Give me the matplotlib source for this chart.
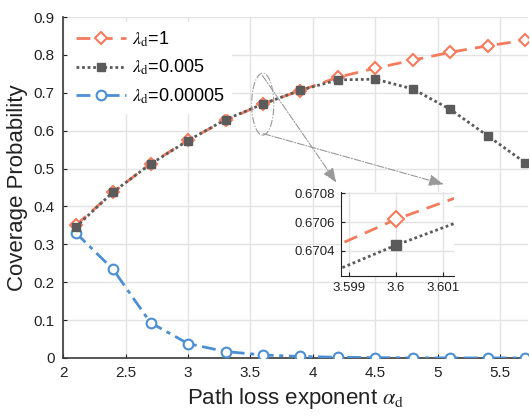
import matplotlib
matplotlib.use('Agg')
import matplotlib.pyplot as plt
from matplotlib.patches import Ellipse

plt.rcParams['font.family'] = ['Liberation Sans', 'DejaVu Sans']
plt.rcParams['mathtext.fontset'] = 'stix'

alpha = [2.1, 2.4, 2.7, 3.0, 3.3, 3.6, 3.9, 4.2, 4.5, 4.8, 5.1, 5.4, 5.7]
cov_l1 = [0.350, 0.437, 0.513, 0.575, 0.6271, 0.67062, 0.706, 0.741, 0.765, 0.786, 0.807, 0.824, 0.839]
cov_l005 = [0.345, 0.438, 0.512, 0.574, 0.6293, 0.67044, 0.707, 0.734, 0.736, 0.710, 0.656, 0.586, 0.515]
cov_l00005 = [0.331, 0.234, 0.093, 0.038, 0.017, 0.008, 0.004, 0.002, 0.001, 0.0005, 0.0003, 0.0002, 0.0001]
labels = [r'$\lambda_{\mathrm{d}}$=1', r'$\lambda_{\mathrm{d}}$=0.005', r'$\lambda_{\mathrm{d}}$=0.00005']

c_org = '#F47B5E'
c_gry = '#5B5B5B'
c_blu = '#4D8FD5'

fig = plt.figure(figsize=(5.3, 4.19), dpi=100)
ax = fig.add_axes([0.119, 0.1456, 0.877, 0.8138])

def draw(a, ms=1.0):
    a.plot(alpha, cov_l1, color=c_org, ls=(0, (5, 3)), lw=2, marker='D',
           ms=6 * ms, mfc='white', mec=c_org, mew=1.5, label=labels[0], zorder=3)
    a.plot(alpha, cov_l005, color=c_gry, ls=(0, (1, 1)), lw=2, marker='s',
           ms=5.5 * ms, mfc=c_gry, mec=c_gry, label=labels[1], zorder=4)
    a.plot(alpha, cov_l00005, color=c_blu, ls=(0, (5, 2, 1.5, 2)), lw=2, marker='o',
           ms=7 * ms, mfc='white', mec=c_blu, mew=1.5, label=labels[2], zorder=3)

draw(ax)
ax.set_xlim(2, 5.72)
ax.set_ylim(0, 0.9)
ax.set_xticks([2, 2.5, 3, 3.5, 4, 4.5, 5, 5.5])
ax.set_xticklabels(['2', '2.5', '3', '3.5', '4', '4.5', '5', '5.5'])
ax.set_yticks([0, 0.1, 0.2, 0.3, 0.4, 0.5, 0.6, 0.7, 0.8, 0.9])
ax.set_yticklabels(['0', '0.1', '0.2', '0.3', '0.4', '0.5', '0.6', '0.7', '0.8', '0.9'])
ax.grid(True, color='#E3E3E3', lw=1)
ax.set_axisbelow(True)
for s in ['top', 'right']:
    ax.spines[s].set_visible(False)
for s in ['left', 'bottom']:
    ax.spines[s].set_color('#3a3a3a')
    ax.spines[s].set_linewidth(1.2)
ax.tick_params(direction='in', length=3, labelsize=11, colors='#222222', pad=6)
ax.set_xlabel(r'Path loss exponent $\alpha_{\mathrm{d}}$', fontsize=16, color='#222222')
ax.set_ylabel('Coverage Probability', fontsize=16, color='#222222')

leg = ax.legend(loc='upper left', fontsize=13, frameon=True, framealpha=1,
                edgecolor='white', handlelength=2.8, borderaxespad=0.3,
                labelspacing=0.5, handletextpad=0.3)

# zoom marker
ax.add_patch(Ellipse((3.598, 0.670), 0.177, 0.1636, fill=False, ec='#999999',
                     lw=0.8, ls='-.', zorder=5))
for start, end in [((3.582, 0.752), (4.201, 0.4566)), ((3.582, 0.594), (5.068, 0.4566))]:
    ax.annotate('', xy=end, xytext=start,
                arrowprops=dict(arrowstyle='-|>,head_length=0.9,head_width=0.35',
                                color='#999999', lw=0.8, ls='-.'), zorder=5)

# inset
axi = fig.add_axes([0.6434, 0.3413, 0.2132, 0.2005])
draw(axi, ms=1.3)
axi.set_xlim(3.59883, 3.60123)
axi.set_ylim(0.670225, 0.67081)
axi.set_xticks([3.599, 3.6, 3.601])
axi.set_xticklabels(['3.599', '3.6', '3.601'])
axi.set_yticks([0.6704, 0.6706, 0.6708])
axi.set_yticklabels(['0.6704', '0.6706', '0.6708'])
axi.grid(True, color='#E3E3E3', lw=1)
axi.set_axisbelow(True)
for s in ['top', 'right']:
    axi.spines[s].set_visible(False)
for s in ['left', 'bottom']:
    axi.spines[s].set_color('#222222')
axi.tick_params(direction='in', length=3, labelsize=9.5, colors='#222222', pad=4)

fig.savefig('out.png', dpi=100)
